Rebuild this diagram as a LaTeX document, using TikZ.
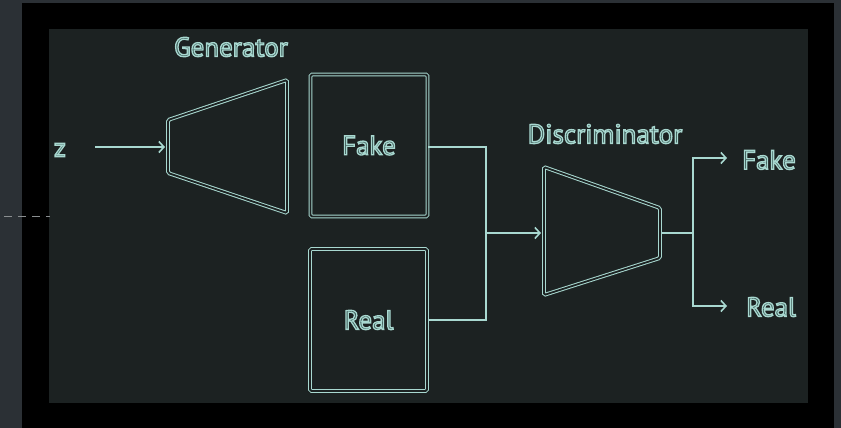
\documentclass[tikz,border=0pt]{standalone}
\usepackage{fontspec}
\setmainfont{PT Sans}
\usetikzlibrary{arrows.meta}
\definecolor{outerbg}{HTML}{2B3035}
\definecolor{panel}{HTML}{1C2222}
\definecolor{glow}{HTML}{A8D8D0}
\definecolor{inner}{HTML}{3A5855}
\definecolor{dashgray}{HTML}{8A8E90}
\newcommand{\olt}[1]{\textcolor{inner}{\special{pdf:literal direct 2 Tr 1.3 w 0.659 0.847 0.816 RG}#1\special{pdf:literal direct 0 Tr}}}
\begin{document}
\begin{tikzpicture}[x=1pt,y=-1pt,
  shapeline/.style={draw=glow, double=panel, line width=1pt, double distance=1.8pt, rounded corners=1.5pt},
  box/.style={shapeline, minimum width=117pt, minimum height=142pt, inner sep=0pt},
  lbl/.style={font=\fontsize{27}{27}\selectfont, inner sep=0pt},
  conn/.style={draw=glow, line width=1.8pt},
  arr/.style={conn, -{Straight Barb[length=5pt,width=11pt,line width=1.6pt]}}]
\useasboundingbox (0,0) rectangle (841,428);
\fill[outerbg] (0,0) rectangle (841,428);
\fill[black] (22,3) rectangle (834,428);
\fill[panel] (49,29) rectangle (808,403);
\draw[dashgray, line width=1.5pt, dash pattern=on 8pt off 6pt] (4,216.7) -- (50,216.7);

% generator
\draw[shapeline] (168,120) -- (287,80) -- (287,213) -- (168,173) -- cycle;
\coordinate (gin) at (165,147);
\node[lbl] (genlbl) at (231,47) {\olt{Generator}};
\node[lbl] (z) at (60,150) {\olt{z}};
\coordinate (zend) at (95,147);
\draw[arr] (zend) -- (gin);

% boxes
\node[box] (fake) at (369,145.5) {};
\node[lbl] (fakelbl) at (fake.center) {\olt{Fake}};
\node[box] (real) at (368.5,320) {};
\node[lbl] (reallbl) at (real.center) {\olt{Real}};

% discriminator
\draw[shapeline] (544,167) -- (660,208) -- (660,258) -- (544,295) -- cycle;
\coordinate (din) at (541,233);
\coordinate (dout) at (661.5,233);
\node[lbl] (disclbl) at (605,134) {\olt{Discriminator}};

\coordinate (j1) at (486,233);
\coordinate (j2) at (693,233);
\draw[conn] (fake.east |- 0,147) -| (j1);
\draw[conn] (real.east |- 0,320) -| (j1);
\draw[arr] (j1) -- (din);
\draw[conn] (dout) -- (j2);
\coordinate (ofake) at (727,158);
\coordinate (oreal) at (727,306);
\draw[arr] (j2) |- (ofake);
\draw[arr] (j2) |- (oreal);
\node[lbl] (outfake) at (769,160) {\olt{Fake}};
\node[lbl] (outreal) at (771,307) {\olt{Real}};
\end{tikzpicture}
\end{document}
